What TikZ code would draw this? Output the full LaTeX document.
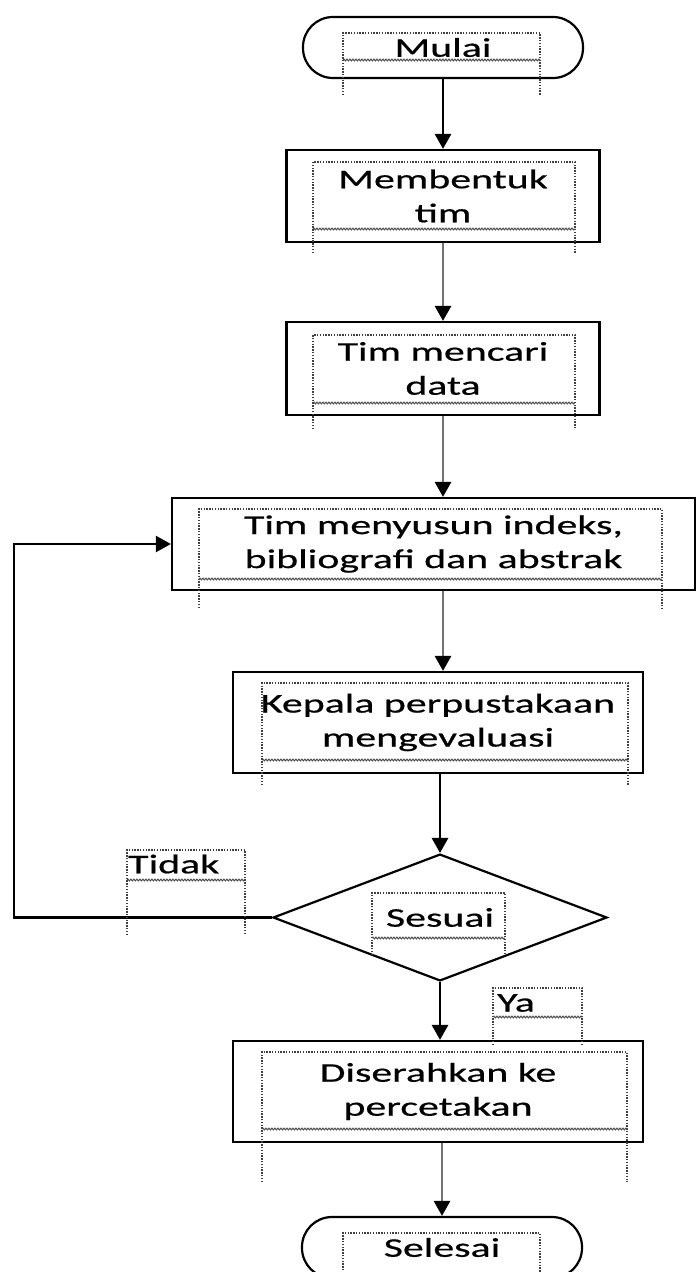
\documentclass[tikz,border=0pt]{standalone}
\usepackage{fontspec}
\setmainfont{Carlito}[FakeStretch=1.55, FakeBold=0.6]
\usetikzlibrary{arrows.meta, shapes.geometric, decorations.pathmorphing}

\begin{document}
\begin{tikzpicture}[x=1pt, y=-1pt,
  proses/.style={draw=black, line width=2.2pt, align=center,
                 font=\fontsize{27}{34}\selectfont, inner sep=0pt},
  ujung/.style={proses, rounded corners=30pt, minimum width=280pt, minimum height=61pt},
  kotak/.style={proses, minimum height=92pt},
  putusan/.style={proses, diamond, minimum width=334pt, minimum height=119pt},
  ket/.style={font=\fontsize{27}{34}\selectfont, anchor=west, inner sep=0pt},
  bingkai/.style={draw=black!75, line width=1.5pt, dash pattern=on 1.4pt off 1.4pt},
  gelombang/.style={draw=black!70, line width=1pt, decorate,
                    decoration={snake, amplitude=0.9pt, segment length=3pt}},
  panah/.style={line width=2.8pt, -{Triangle[width=16pt, length=15pt, color=black]}},
  abu/.style={panah, draw=black!55}
]
\useasboundingbox (0,0) rectangle (699,1272);
\clip (0,0) rectangle (699,1272);

% langkah-langkah
\node[ujung] (mulai) at (443,47.5) {Mulai};
\node[kotak, minimum width=313pt] (bentuk) at (443,196) {Membentuk\\tim};
\node[kotak, minimum width=313pt, minimum height=93pt] (cari) at (443,368.5) {Tim mencari\\data};
\node[kotak, minimum width=523pt] (susun) at (433.5,544) {Tim menyusun indeks,\\bibliografi dan abstrak};
\node[kotak, minimum width=410pt, minimum height=101pt] (evaluasi) at (438,722.5) {Kepala perpustakaan\\mengevaluasi};
\node[putusan] (sesuai) at (440,917.5) {Sesuai};
\node[kotak, minimum width=410pt, minimum height=101pt] (cetak) at (438,1091.5) {Diserahkan ke\\percetakan};
\node[ujung] (selesai) at (442,1247.5) {Selesai};

\node[ket] (tidak) at (128,864) {Tidak};
\node[ket] (ya) at (497,1003) {Ya};

% panah
\draw[panah] (mulai) -- (bentuk);
\draw[abu] (bentuk) -- (cari);
\draw[abu] (cari.south) -- (cari.south |- susun.north);
\draw[abu] (susun.south -| bentuk) -- (evaluasi.north -| bentuk);
\draw[panah] (evaluasi.south -| sesuai) -- (sesuai.north);
\draw[panah] (sesuai.south) -- (sesuai.south |- cetak.north);
\draw[abu] (cetak.south -| selesai) -- (selesai.north);

\coordinate (balik) at (14,544);
\draw[line width=2.2pt, -{Triangle[width=16pt, length=15pt]}] (sesuai.west) -| (balik) -- (susun.west);

% bingkai kotak teks
\draw[bingkai] (343,95) -- (343,33) -- (540,33) -- (540,95);
\draw[gelombang] (343,60) -- (540,60);
\draw[bingkai] (313,253) -- (313,162) -- (575,162) -- (575,253);
\draw[gelombang] (313,229) -- (575,229);
\draw[bingkai] (313,429) -- (313,335) -- (575,335) -- (575,429);
\draw[gelombang] (313,403) -- (575,403);
\draw[bingkai] (199,608) -- (199,509) -- (662,509) -- (662,608);
\draw[gelombang] (199,579) -- (662,579);
\draw[bingkai] (262,785) -- (262,683) -- (628,683) -- (628,785);
\draw[gelombang] (262,760) -- (628,760);
\draw[bingkai] (127,935) -- (127,850) -- (245,850) -- (245,935);
\draw[gelombang] (127,880) -- (245,880);
\draw[bingkai] (372,955) -- (372,893) -- (505,893) -- (505,955);
\draw[gelombang] (372,938) -- (505,938);
\draw[bingkai] (493,1045) -- (493,988) -- (582,988) -- (582,1045);
\draw[gelombang] (493,1017) -- (582,1017);
\draw[bingkai] (262,1182) -- (262,1052) -- (627,1052) -- (627,1182);
\draw[gelombang] (262,1129) -- (627,1129);
\draw[bingkai] (343,1290) -- (343,1233) -- (540,1233) -- (540,1290);
\end{tikzpicture}
\end{document}
